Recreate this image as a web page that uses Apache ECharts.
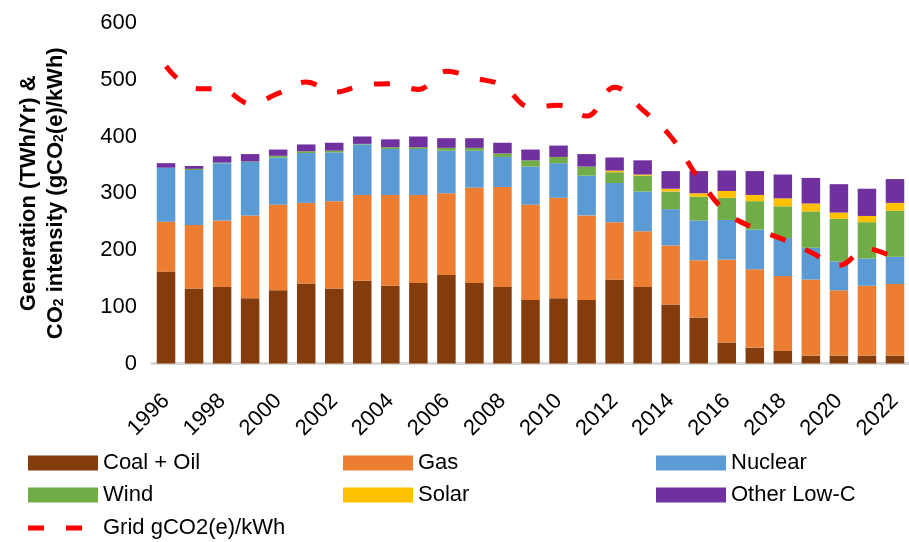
<!DOCTYPE html>
<html>
<head>
<meta charset="utf-8">
<title>Generation and CO2 intensity</title>
<script src="https://cdn.jsdelivr.net/npm/echarts@6/dist/echarts.min.js"></script>
<style>
  html, body { margin: 0; padding: 0; background: #fff; }
  #gen { width: 909px; height: 542px; }
</style>
</head>
<body>
<div id="gen"></div>
<script>
// data
var years = ['1996', '1997', '1998', '1999', '2000', '2001', '2002', '2003', '2004', '2005', '2006', '2007', '2008', '2009',
  '2010', '2011', '2012', '2013', '2014', '2015', '2016', '2017', '2018', '2019', '2020', '2021', '2022'];
var coalOil = [162, 132, 135, 115, 129, 141, 132, 146, 137, 142, 156, 142, 135, 112, 115, 112, 148, 135, 104, 81, 37, 28, 22, 14, 14, 14, 14];
var gas = [88, 112, 117, 146, 151, 142, 154, 151, 160, 155, 144, 168, 176, 168, 177, 149, 101, 98, 104, 101, 146, 138, 132, 134, 115, 123, 126];
var nuclear = [95, 97, 101, 94, 83, 88, 86, 89, 81, 81, 75, 65, 53, 67, 61, 70, 69, 70, 64, 70, 70, 70, 67, 56, 51, 48, 48];
var wind = [0, 2, 1, 1, 3, 3, 3, 1, 3, 3, 5, 5, 6, 11, 11, 16, 19, 28, 31, 42, 39, 50, 56, 64, 75, 64, 81];
var solar = [0, 0, 0, 0, 0, 0, 0, 0, 0, 0, 0, 0, 0, 0, 0, 0, 3, 2, 5, 6, 12, 11, 14, 14, 11, 11, 14];
var otherLowC = [8, 5, 11, 13, 11, 12, 14, 13, 14, 19, 17, 17, 19, 19, 20, 22, 23, 25, 31, 39, 36, 42, 42, 45, 50, 48, 42];
var gridIntensity = [524, 485, 483, 458, 476, 496, 478, 490, 493, 483, 515, 503, 490, 452, 455, 436, 487, 447, 400, 326, 266, 238, 219, 196, 173, 202, 186];

var yTicks = { min: 0, max: 600, step: 100 };

(function () {
  // 1.init
  var myChart = echarts.init(document.getElementById('gen'));
  var font = 'Liberation Sans, Arial, sans-serif';

  function barSeries(name, data, color) {
    return {
      name: name,
      type: 'bar',
      stack: 'total',
      barCategoryGap: '34%',
      itemStyle: { color: color },
      data: data
    };
  }

  // one legend per item so the columns line up like the original
  function legendItem(name, left, top) {
    return {
      data: [name],
      left: left,
      top: top,
      padding: 0,
      itemWidth: 70,
      itemHeight: 15,
      icon: 'rect',
      selectedMode: false,
      textStyle: { fontFamily: font, fontSize: 22, color: '#000' }
    };
  }

  // the dashed line key: two short dashes, no marker
  var lineLegend = {
    data: [{ name: 'Grid gCO2(e)/kWh', icon: 'path://M0,0H16V5H0Z M38,0H54V5H38Z' }],
    left: 28,
    top: 517,
    padding: 0,
    itemWidth: 54,
    itemHeight: 5,
    selectedMode: false,
    textStyle: { fontFamily: font, fontSize: 22, color: '#000', padding: [0, 0, 0, 16] }
  };

  // 2.options
  var option = {
    animation: false,
    textStyle: { fontFamily: font },
    grid: {
      top: 23,
      left: 152,
      right: -18,
      bottom: 178.5
    },
    legend: [
      legendItem('Coal + Oil', 28, 452),
      legendItem('Gas', 343, 452),
      legendItem('Nuclear', 656, 452),
      legendItem('Wind', 28, 484),
      legendItem('Solar', 343, 484),
      legendItem('Other Low-C', 656, 484),
      lineLegend
    ],
    xAxis: {
      type: 'category',
      data: years,
      axisTick: { show: false },
      axisLine: { lineStyle: { color: '#D9D9D9', width: 3 } },
      axisLabel: {
        interval: 1,
        rotate: 45,
        margin: 34,
        fontSize: 22,
        color: '#000'
      }
    },
    yAxis: {
      type: 'value',
      min: yTicks.min,
      max: yTicks.max,
      interval: yTicks.step,
      splitLine: { show: false },
      axisLine: { show: false },
      axisTick: { show: false },
      axisLabel: { fontSize: 22, color: '#000', margin: 15 },
      name: 'Generation (TWh/Yr) &\nCO{sub|2} intensity (gCO{sub|2}(e)/kWh)',
      nameLocation: 'middle',
      nameRotate: 90,
      nameGap: 83,
      nameTextStyle: {
        fontSize: 22,
        fontWeight: 'bold',
        color: '#000',
        lineHeight: 27,
        rich: {
          sub: { fontSize: 14, fontWeight: 'bold', color: '#000', padding: [8, 0, 0, 0] }
        }
      }
    },
    series: [
      barSeries('Coal + Oil', coalOil, '#843C0C'),
      barSeries('Gas', gas, '#ED7D31'),
      barSeries('Nuclear', nuclear, '#5B9BD5'),
      barSeries('Wind', wind, '#70AD47'),
      barSeries('Solar', solar, '#FFC000'),
      barSeries('Other Low-C', otherLowC, '#7030A0'),
      {
        name: 'Grid gCO2(e)/kWh',
        type: 'line',
        smooth: 0.4,
        symbol: 'none',
        z: 5,
        lineStyle: { color: '#FF0000', width: 5, type: [16, 22] },
        itemStyle: { color: '#FF0000' },
        data: gridIntensity
      }
    ]
  };

  // 3.set
  myChart.setOption(option);
  window.addEventListener('resize', function () {
    myChart.resize();
  });
})();
</script>
</body>
</html>
